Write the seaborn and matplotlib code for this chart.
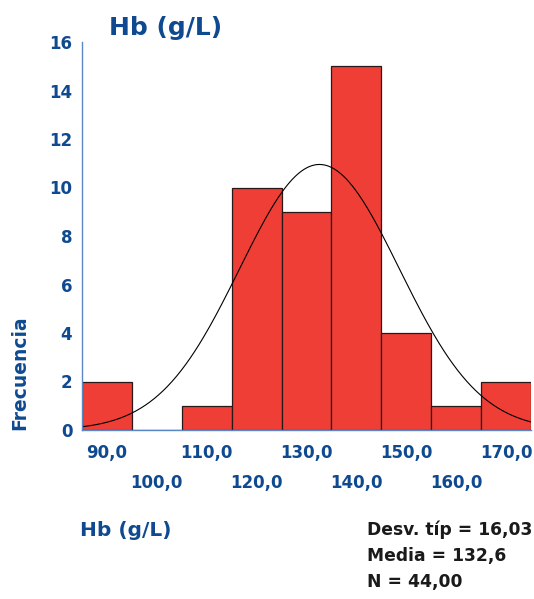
import numpy as np
import pandas as pd
import matplotlib
matplotlib.use("Agg")
import matplotlib.pyplot as plt
import seaborn as sns

# ---- data ----
bin_centers = [90, 100, 110, 120, 130, 140, 150, 160, 170]
counts = [2, 0, 1, 10, 9, 15, 4, 1, 2]
tick_labels = ["90,0", "100,0", "110,0", "120,0", "130,0", "140,0", "150,0", "160,0", "170,0"]
y_ticks = [0, 2, 4, 6, 8, 10, 12, 14, 16]
mean_val = 132.6
sd_val = 16.03
n_val = 44
stats_lines = ["Desv. típ = 16,03", "Media = 132,6", "N = 44,00"]

sns.set_theme(style="white")
plt.rcParams["font.family"] = ["DejaVu Sans"]

blue = "#0f4a90"
spine_blue = "#5b87c5"
red = "#ef3e36"

df = pd.DataFrame({"hb": bin_centers, "n": counts})
binwidth = 10
lo = bin_centers[0] - binwidth / 2
hi = bin_centers[-1] + binwidth / 2

fig = plt.figure(figsize=(5.34, 5.99), dpi=100)
ax = fig.add_axes([82 / 534, 1 - 430 / 599, (531 - 82) / 534, (430 - 42) / 599])

sns.histplot(data=df, x="hb", weights="n", binwidth=binwidth, binrange=(lo, hi),
             color=red, alpha=1, edgecolor="#2a1818", linewidth=0.9, ax=ax)

xs = np.linspace(lo, hi, 300)
ys = n_val * binwidth / (sd_val * np.sqrt(2 * np.pi)) * np.exp(-0.5 * ((xs - mean_val) / sd_val) ** 2)
sns.lineplot(x=xs, y=ys, color="black", linewidth=0.8, ax=ax)

ax.set_xlim(lo, hi)
ax.set_ylim(0, 16)
ax.set_yticks(y_ticks)
ax.set_yticklabels([str(v) for v in y_ticks], color=blue, fontsize=12, fontweight="bold")
ax.set_xticks(bin_centers)
ax.set_xticklabels([lab if i % 2 == 0 else "\n" + lab for i, lab in enumerate(tick_labels)],
                   color=blue, fontsize=12, fontweight="bold")
for t in ax.get_xticklabels():
    t.set_linespacing(1.85)
ax.tick_params(axis="both", length=0)
ax.tick_params(axis="y", pad=7)
ax.tick_params(axis="x", pad=10)
ax.set_xlabel("")
ax.set_ylabel("")
for s in ["top", "right"]:
    ax.spines[s].set_visible(False)
for s in ["left", "bottom"]:
    ax.spines[s].set_color(spine_blue)
    ax.spines[s].set_linewidth(1.0)

fig.text(166 / 534, 1 - 28 / 599, "Hb (g/L)", color=blue, fontsize=18, fontweight="bold",
         ha="center", va="center")
fig.text(20 / 534, 1 - 373 / 599, "Frecuencia", color=blue, fontsize=13.5, fontweight="bold",
         rotation=90, ha="center", va="center")
fig.text(80 / 534, 1 - 530 / 599, "Hb (g/L)", color=blue, fontsize=14.5, fontweight="bold",
         ha="left", va="center")
for i, line in enumerate(stats_lines):
    fig.text(367 / 534, 1 - (530 + 26 * i) / 599, line, color="#1a1a1a", fontsize=12.3,
             fontweight="bold", ha="left", va="center")

fig.savefig("out.png", dpi=100)
